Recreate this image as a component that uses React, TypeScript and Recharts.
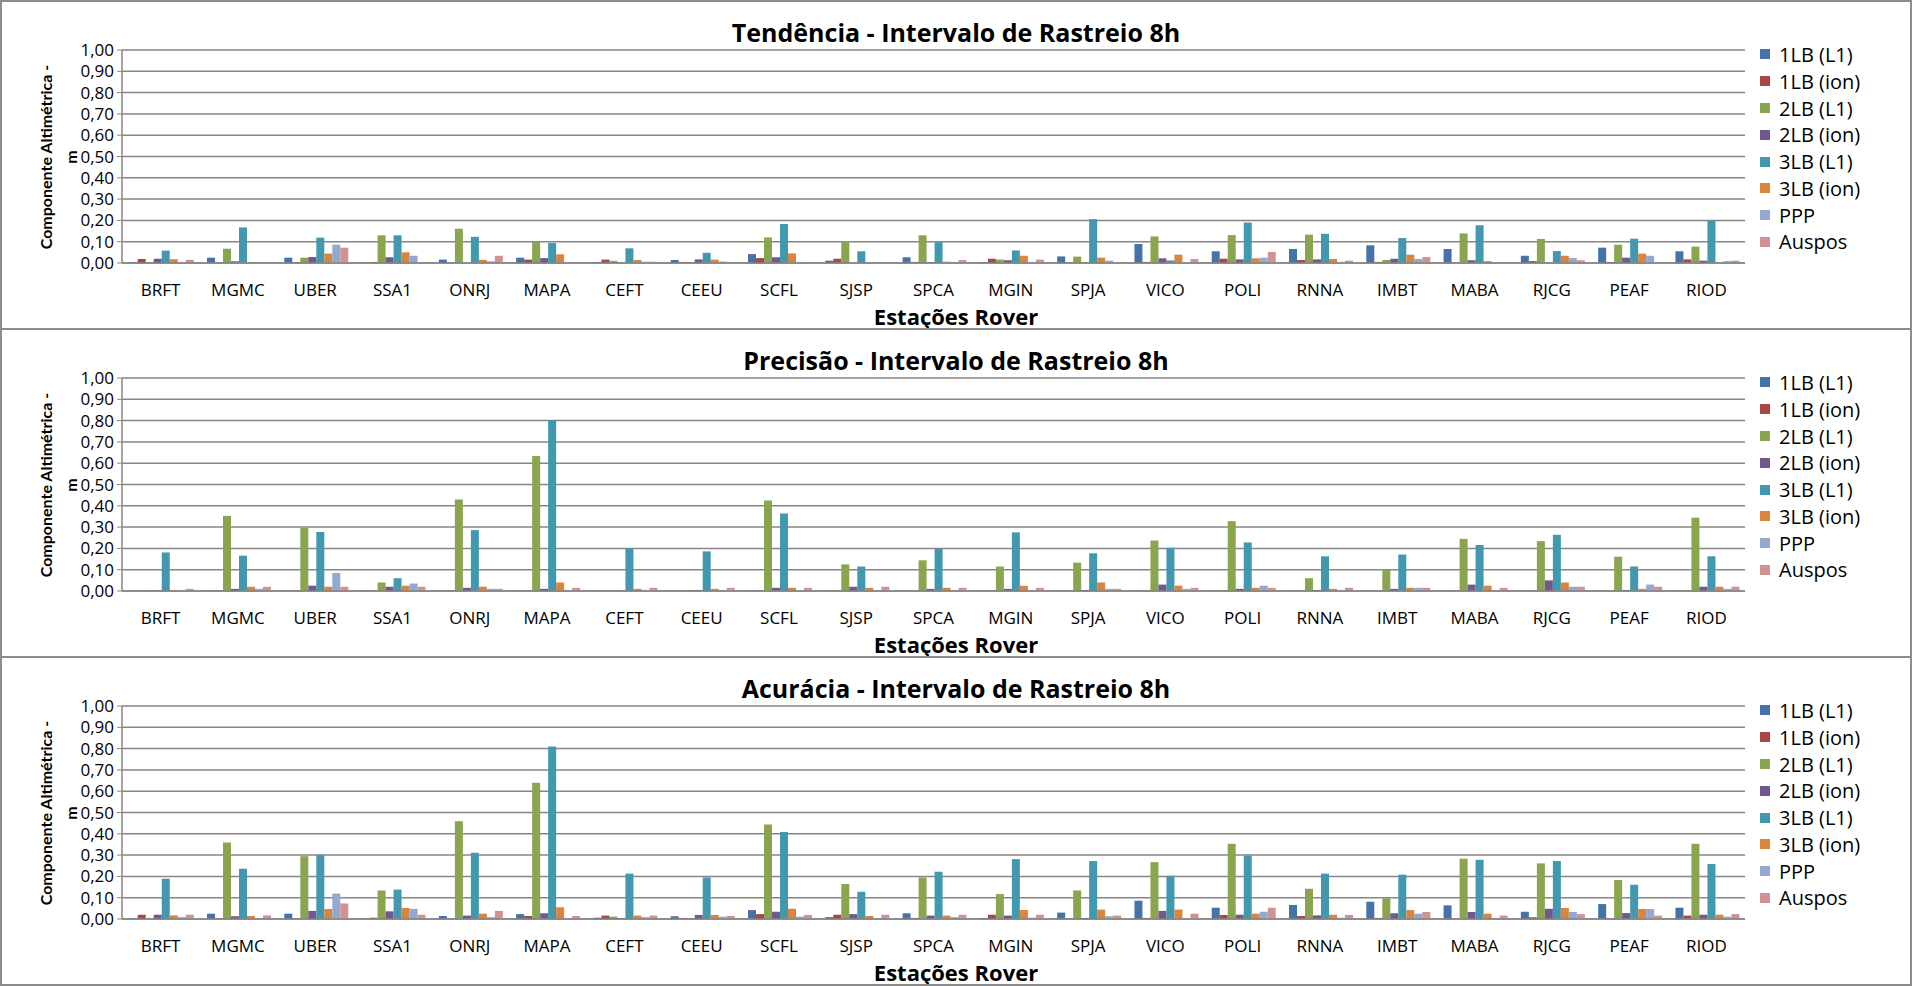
import React from "react";
import { BarChart, Bar, XAxis, YAxis, CartesianGrid } from "recharts";

const stations = [
  "BRFT", "MGMC", "UBER", "SSA1", "ONRJ", "MAPA", "CEFT", "CEEU", "SCFL", "SJSP", "SPCA",
  "MGIN", "SPJA", "VICO", "POLI", "RNNA", "IMBT", "MABA", "RJCG", "PEAF", "RIOD",
];

const seriesNames = ["1LB (L1)", "1LB (ion)", "2LB (L1)", "2LB (ion)", "3LB (L1)", "3LB (ion)", "PPP", "Auspos"];
const colors = ["#4572A7", "#AA4643", "#89A54E", "#71588F", "#4198AF", "#DB843D", "#93A9CF", "#D19392"];

const yTicks = [0, 0.1, 0.2, 0.3, 0.4, 0.5, 0.6, 0.7, 0.8, 0.9, 1.0];

// Tendência
const tend1LBL1 = [0.004, 0.025, 0.025, 0.001, 0.016, 0.025, 0.005, 0.014, 0.042, 0.011, 0.027, 0.004, 0.031, 0.089, 0.055, 0.066, 0.083, 0.066, 0.034, 0.072, 0.055];
const tend1LBion = [0.019, 0.001, 0.003, 0.005, 0.001, 0.016, 0.016, 0.005, 0.023, 0.02, 0.005, 0.02, 0.001, 0.005, 0.02, 0.014, 0.005, 0.001, 0.009, 0.004, 0.017];
const tend2LBL1 = [0.004, 0.067, 0.025, 0.13, 0.161, 0.098, 0.01, 0.004, 0.12, 0.103, 0.13, 0.016, 0.03, 0.125, 0.131, 0.133, 0.014, 0.139, 0.113, 0.086, 0.077];
const tend2LBion = [0.02, 0.008, 0.028, 0.027, 0.001, 0.023, 0.001, 0.017, 0.027, 0.001, 0.004, 0.013, 0.001, 0.022, 0.017, 0.017, 0.02, 0.013, 0.001, 0.025, 0.011];
const tend3LBL1 = [0.058, 0.167, 0.119, 0.13, 0.123, 0.094, 0.069, 0.048, 0.183, 0.055, 0.098, 0.059, 0.206, 0.012, 0.19, 0.137, 0.117, 0.177, 0.056, 0.114, 0.198];
const tend3LBion = [0.018, 0.001, 0.044, 0.05, 0.015, 0.041, 0.014, 0.016, 0.045, 0.001, 0.006, 0.034, 0.025, 0.039, 0.022, 0.019, 0.039, 0.009, 0.034, 0.044, 0.001];
const tendPPP = [0.005, 0.003, 0.086, 0.034, 0.008, 0.003, 0.006, 0.007, 0.005, 0.001, 0.004, 0.005, 0.011, 0.001, 0.025, 0.005, 0.019, 0.004, 0.023, 0.034, 0.009];
const tendAuspos = [0.015, 0.001, 0.072, 0.005, 0.034, 0.003, 0.006, 0.001, 0.003, 0.004, 0.014, 0.016, 0.001, 0.019, 0.052, 0.011, 0.028, 0.004, 0.013, 0.001, 0.011];

// Precisão
const prec1LBL1 = [0.002, 0.003, 0.002, 0.003, 0.002, 0.002, 0.001, 0.002, 0.003, 0.002, 0.002, 0.002, 0.001, 0.003, 0.002, 0.002, 0.002, 0.003, 0.002, 0.002, 0.002];
const prec1LBion = [0.001, 0.002, 0.002, 0.001, 0.002, 0.001, 0.002, 0.001, 0.002, 0.002, 0.001, 0.002, 0.001, 0.002, 0.002, 0.001, 0.001, 0.002, 0.002, 0.001, 0.002];
const prec2LBL1 = [0.005, 0.353, 0.297, 0.04, 0.43, 0.634, 0.003, 0.005, 0.425, 0.125, 0.144, 0.115, 0.133, 0.237, 0.328, 0.06, 0.1, 0.245, 0.234, 0.161, 0.344];
const prec2LBion = [0.003, 0.01, 0.025, 0.02, 0.015, 0.01, 0.003, 0.005, 0.015, 0.02, 0.01, 0.01, 0.005, 0.03, 0.01, 0.005, 0.01, 0.03, 0.05, 0.005, 0.02];
const prec3LBL1 = [0.181, 0.166, 0.277, 0.06, 0.286, 0.803, 0.2, 0.186, 0.364, 0.115, 0.198, 0.275, 0.177, 0.203, 0.228, 0.163, 0.171, 0.216, 0.264, 0.115, 0.163];
const prec3LBion = [0.005, 0.02, 0.02, 0.025, 0.02, 0.04, 0.01, 0.01, 0.015, 0.015, 0.015, 0.025, 0.04, 0.025, 0.015, 0.01, 0.015, 0.025, 0.04, 0.01, 0.02];
const precPPP = [0.005, 0.01, 0.085, 0.035, 0.01, 0.005, 0.005, 0.005, 0.005, 0.005, 0.005, 0.005, 0.01, 0.01, 0.025, 0.005, 0.015, 0.005, 0.02, 0.03, 0.01];
const precAuspos = [0.01, 0.02, 0.02, 0.02, 0.01, 0.015, 0.015, 0.015, 0.015, 0.02, 0.015, 0.015, 0.01, 0.015, 0.015, 0.015, 0.015, 0.015, 0.02, 0.02, 0.02];

// Acurácia
const acur1LBL1 = [0.003, 0.025, 0.025, 0.002, 0.014, 0.023, 0.006, 0.013, 0.042, 0.009, 0.027, 0.005, 0.03, 0.086, 0.053, 0.066, 0.081, 0.064, 0.034, 0.07, 0.053];
const acur1LBion = [0.02, 0.002, 0.004, 0.006, 0.001, 0.014, 0.016, 0.005, 0.023, 0.02, 0.005, 0.02, 0.001, 0.005, 0.019, 0.014, 0.005, 0.001, 0.008, 0.003, 0.016];
const acur2LBL1 = [0.003, 0.359, 0.295, 0.134, 0.459, 0.64, 0.011, 0.004, 0.444, 0.164, 0.195, 0.117, 0.134, 0.267, 0.353, 0.142, 0.097, 0.283, 0.261, 0.183, 0.353];
const acur2LBion = [0.02, 0.013, 0.038, 0.036, 0.016, 0.027, 0.004, 0.019, 0.034, 0.023, 0.016, 0.016, 0.005, 0.038, 0.02, 0.017, 0.027, 0.033, 0.048, 0.028, 0.02];
const acur3LBL1 = [0.189, 0.236, 0.3, 0.138, 0.311, 0.81, 0.213, 0.195, 0.409, 0.128, 0.222, 0.281, 0.272, 0.203, 0.298, 0.213, 0.208, 0.278, 0.272, 0.161, 0.258];
const acur3LBion = [0.017, 0.014, 0.047, 0.052, 0.025, 0.055, 0.016, 0.019, 0.048, 0.014, 0.016, 0.042, 0.044, 0.044, 0.025, 0.02, 0.042, 0.025, 0.052, 0.047, 0.02];
const acurPPP = [0.009, 0.005, 0.119, 0.048, 0.009, 0.003, 0.009, 0.011, 0.011, 0.002, 0.009, 0.006, 0.013, 0.001, 0.034, 0.006, 0.025, 0.005, 0.033, 0.047, 0.011];
const acurAuspos = [0.02, 0.017, 0.073, 0.02, 0.038, 0.014, 0.016, 0.014, 0.019, 0.02, 0.02, 0.02, 0.016, 0.025, 0.053, 0.019, 0.033, 0.016, 0.023, 0.016, 0.023];

const FONT = "'Open Sans', Lato, sans-serif";
const GRID = "#868686";

function buildRows(cols: number[][]) {
  return stations.map((name, i) => {
    const row: any = { name };
    cols.forEach((c, k) => {
      row["s" + k] = c[i];
    });
    return row;
  });
}

const fmt = (v: number) => v.toFixed(2).replace(".", ",");

function Panel({ title, cols, top }: { title: string; cols: number[][]; top: number }) {
  const rows = buildRows(cols);
  return (
    <div style={{ position: "absolute", left: 0, top, width: 1912, height: 330, fontFamily: FONT }}>
      <BarChart
        width={1912}
        height={328}
        data={rows}
        margin={{ top: 50, right: 167, bottom: 35, left: 0 }}
        barCategoryGap="10%"
        barGap={0}
      >
        <CartesianGrid vertical={false} stroke={GRID} strokeWidth={1.5} />
        <XAxis
          dataKey="name"
          interval={0}
          height={30}
          tickLine={false}
          tickSize={6}
          tickMargin={15}
          axisLine={{ stroke: GRID, strokeWidth: 1.5 }}
          tick={{ fill: "#000", fontSize: 17, fontFamily: FONT }}
        />
        <YAxis
          width={122}
          domain={[0, 1]}
          ticks={yTicks}
          interval={0}
          tickFormatter={fmt}
          tickSize={5}
          tickMargin={3}
          tickLine={{ stroke: GRID }}
          axisLine={{ stroke: GRID, strokeWidth: 1.5 }}
          tick={{ fill: "#000", fontSize: 17, fontFamily: FONT }}
        />
        {seriesNames.map((s, k) => (
          <Bar key={s} dataKey={"s" + k} name={s} fill={colors[k]} isAnimationActive={false} />
        ))}
      </BarChart>

      <div style={{ position: "absolute", left: 0, width: 1912, top: 16, textAlign: "center", fontWeight: 700, fontSize: 25, lineHeight: "32px" }}>
        {title}
      </div>
      <div style={{ position: "absolute", left: 0, width: 1912, top: 305, textAlign: "center", fontWeight: 700, fontSize: 22, lineHeight: "22px" }}>
        Estações Rover
      </div>
      <div
        style={{
          position: "absolute",
          left: 58 - 130,
          top: 157 - 25,
          width: 260,
          height: 50,
          transform: "rotate(-90deg)",
          textAlign: "center",
          fontWeight: 700,
          fontSize: 16,
          lineHeight: "25px",
          fontFamily: "Lato, sans-serif",
        }}
      >
        Componente Altimétrica -
        <br />m
      </div>
      <div style={{ position: "absolute", left: 1760, top: 41 }}>
        {seriesNames.map((s, k) => (
          <div key={s} style={{ display: "flex", alignItems: "center", height: 26.8, fontSize: 20, whiteSpace: "nowrap" }}>
            <span style={{ width: 10, height: 10, background: colors[k], marginRight: 9, display: "inline-block" }} />
            <span>{s}</span>
          </div>
        ))}
      </div>
      <div style={{ position: "absolute", left: 0, top: 0, width: 1912, height: 330, border: "2px solid #8C8C8C", boxSizing: "border-box", pointerEvents: "none" }} />
    </div>
  );
}

export default function App() {
  return (
    <div style={{ position: "absolute", left: 0, top: 0, width: 1912, height: 986, background: "#fff", overflow: "hidden" }}>
      <Panel
        title="Tendência - Intervalo de Rastreio 8h"
        top={0}
        cols={[tend1LBL1, tend1LBion, tend2LBL1, tend2LBion, tend3LBL1, tend3LBion, tendPPP, tendAuspos]}
      />
      <Panel
        title="Precisão - Intervalo de Rastreio 8h"
        top={328}
        cols={[prec1LBL1, prec1LBion, prec2LBL1, prec2LBion, prec3LBL1, prec3LBion, precPPP, precAuspos]}
      />
      <Panel
        title="Acurácia - Intervalo de Rastreio 8h"
        top={656}
        cols={[acur1LBL1, acur1LBion, acur2LBL1, acur2LBion, acur3LBL1, acur3LBion, acurPPP, acurAuspos]}
      />
    </div>
  );
}
